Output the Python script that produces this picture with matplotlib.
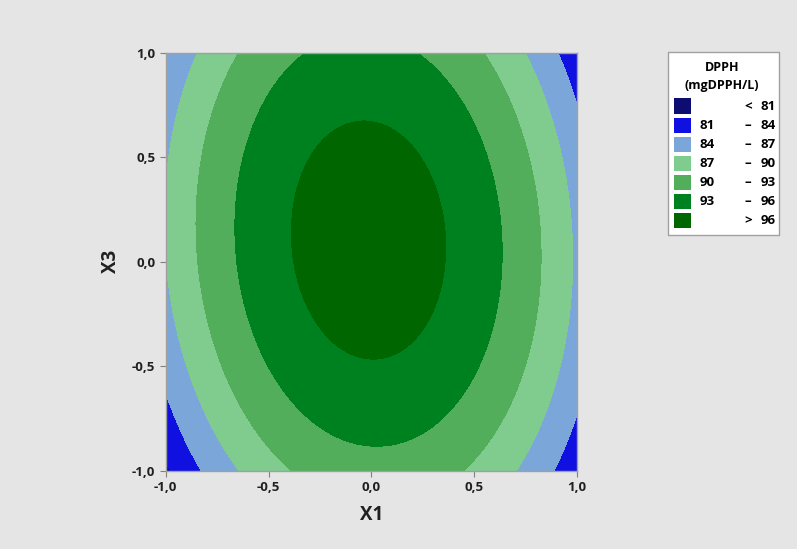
import numpy as np
import matplotlib.pyplot as plt
from matplotlib.patches import Rectangle
from matplotlib.ticker import FuncFormatter

# fitted response surface coefficients for DPPH
b0 = 97.45
b1, b3 = -0.21, 0.95
b11, b33 = -10.7, -4.64
b13 = -0.85

levels = [60, 81, 84, 87, 90, 93, 96, 110]
colors = ['#0c0c72', '#1010e0', '#7ba6d9', '#80cc8f', '#52ae5a', '#008120', '#006600']
low_labels = ['', '81', '84', '87', '90', '93', '']
mid_labels = ['<', '–', '–', '–', '–', '–', '>']
high_labels = ['81', '84', '87', '90', '93', '96', '96']
ticks = [-1.0, -0.5, 0.0, 0.5, 1.0]

plt.rcParams['font.family'] = ['Open Sans', 'DejaVu Sans']
bg = '#e5e5e5'
wt = 'bold'

x1 = np.linspace(-1, 1, 201)
x3 = np.linspace(-1, 1, 201)
X1, X3 = np.meshgrid(x1, x3)
Z = b0 + b1 * X1 + b3 * X3 + b11 * X1**2 + b33 * X3**2 + b13 * X1 * X3

fig = plt.figure(figsize=(7.97, 5.49), dpi=100, facecolor=bg)
ax = fig.add_axes([0.2079, 0.1426, 0.5162, 0.7614])
ax.contourf(X1, X3, Z, levels=levels, colors=colors)
ax.set_xlim(-1, 1)
ax.set_ylim(-1, 1)
ax.set_xticks(ticks)
ax.set_yticks(ticks)
fmt = FuncFormatter(lambda v, p: f'{v:.1f}'.replace('.', ','))
ax.xaxis.set_major_formatter(fmt)
ax.yaxis.set_major_formatter(fmt)
ax.tick_params(labelsize=9.5, color='#808080', length=4, width=0.8, labelcolor='#202020')
for lab in ax.get_xticklabels() + ax.get_yticklabels():
    lab.set_fontweight(wt)
for s in ax.spines.values():
    s.set_color('#a0a0a0')
    s.set_linewidth(1)
ax.set_xlabel('X1', fontsize=13.5, fontweight=wt, labelpad=8, color='#202020')
ax.set_ylabel('X3', fontsize=13.5, fontweight=wt, labelpad=8, color='#202020')

# legend box drawn by hand (pixel coords -> figure fraction)
W, H = 797, 549
def fx(px): return px / W
def fy(py): return 1 - py / H

fig.patches.append(Rectangle((fx(668), fy(235)), fx(779) - fx(668), fy(52) - fy(235),
                             transform=fig.transFigure, facecolor='white',
                             edgecolor='#a0a0a0', linewidth=1))
fig.text(fx(722), fy(67), 'DPPH', ha='center', va='center', fontsize=9, fontweight=wt)
fig.text(fx(722), fy(86), '(mgDPPH/L)', ha='center', va='center', fontsize=9, fontweight=wt)
for i in range(len(colors)):
    yc = 106 + i * 19.1
    fig.patches.append(Rectangle((fx(674), fy(yc + 7.5)), fx(691) - fx(674), fy(yc - 7.5) - fy(yc + 7.5),
                                 transform=fig.transFigure, facecolor=colors[i], edgecolor='none'))
    fig.text(fx(700), fy(yc), low_labels[i], ha='left', va='center', fontsize=9.5, fontweight=wt)
    fig.text(fx(748), fy(yc + 0.5), mid_labels[i], ha='center', va='center', fontsize=9.5, fontweight=wt)
    fig.text(fx(776), fy(yc), high_labels[i], ha='right', va='center', fontsize=9.5, fontweight=wt)

fig.savefig('out.png', dpi=100, facecolor=bg)
